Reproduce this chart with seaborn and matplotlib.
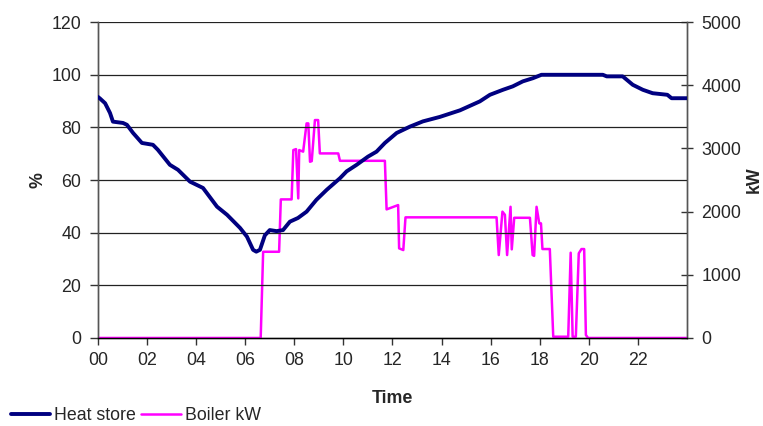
import matplotlib
matplotlib.use("Agg")
import matplotlib.pyplot as plt
import seaborn as sns
import pandas as pd

# Heat store (%) vs time (hours)
store_t = [0.0, 0.08, 0.29, 0.49, 0.61, 1.02, 1.18, 1.43, 1.79, 2.24, 2.44, 2.93, 3.26,
           3.75, 4.28, 4.85, 5.26, 5.79, 6.07, 6.32, 6.45, 6.6, 6.8, 7.0, 7.28, 7.54, 7.82,
           8.15, 8.5, 8.9, 9.32, 9.86, 10.13, 10.54, 11.0, 11.35, 11.69, 12.17, 12.71,
           13.24, 13.93, 14.75, 15.56, 15.97, 16.5, 16.9, 17.31, 17.72, 18.07, 20.57,
           20.73, 21.38, 21.79, 22.2, 22.6, 23.2, 23.37, 24.0]
store_v = [91.6, 91.0, 89.2, 85.5, 82.2, 81.7, 81.0, 77.9, 74.1, 73.4, 71.5, 65.8, 63.9,
           59.4, 57.0, 49.9, 46.8, 41.8, 38.5, 33.5, 32.8, 33.5, 39.0, 41.0, 40.6, 41.0, 44.2,
           45.6, 48.0, 52.5, 56.3, 60.7, 63.3, 65.8, 68.9, 70.8, 74.1, 77.9, 80.3,
           82.3, 84.0, 86.5, 89.9, 92.4, 94.3, 95.6, 97.5, 98.7, 100.0, 100.0,
           99.4, 99.4, 96.2, 94.3, 93.0, 92.4, 91.1, 91.1]

# Boiler output (kW) vs time (hours)
boiler_t = [0.0, 6.63, 6.73, 7.38, 7.45, 7.89, 7.96, 8.07, 8.16, 8.2, 8.36, 8.5, 8.57,
            8.64, 8.71, 8.84, 8.97, 9.04, 9.79, 9.86, 11.69, 11.76, 12.23, 12.27, 12.44,
            12.53, 16.24, 16.33, 16.48, 16.58, 16.67, 16.81, 16.86, 16.96, 17.6, 17.71,
            17.77, 17.87, 17.98, 18.05, 18.11, 18.41, 18.55, 19.16, 19.26, 19.34, 19.47,
            19.59, 19.7, 19.81, 19.88, 19.97, 24.0]
boiler_v = [0, 0, 1365, 1365, 2194, 2194, 2975, 2990, 2210, 2975, 2950, 3397, 3397,
            2790, 2800, 3450, 3450, 2922, 2922, 2805, 2805, 2036, 2104, 1419, 1392,
            1910, 1910, 1313, 2000, 1950, 1313, 2077, 1403, 1903, 1903, 1313,
            1300, 2077, 1815, 1815, 1408, 1408, 20, 20, 1350, 20, 20,
            1340, 1408, 1408, 47, 0, 0]

x_ticks = list(range(0, 24, 2))
x_labels = [f"{h:02d}" for h in x_ticks]
left_ticks = list(range(0, 121, 20))
right_ticks = list(range(0, 5001, 1000))

sns.set_style("white")
plt.rcParams["font.family"] = ["Liberation Sans", "DejaVu Sans"]
plt.rcParams["font.size"] = 12.8

fig = plt.figure(figsize=(7.63, 4.26), dpi=100)
ax = fig.add_axes([0.1284, 0.2066, 0.7720, 0.7414])
ax2 = ax.twinx()

df_s = pd.DataFrame({"t": store_t, "v": store_v})
df_b = pd.DataFrame({"t": boiler_t, "v": boiler_v})

sns.lineplot(data=df_s, x="t", y="v", ax=ax, color="#000080", lw=2.8,
             label="Heat store", legend=False, zorder=3)
sns.lineplot(data=df_b, x="t", y="v", ax=ax2, color="#FF00FF", lw=1.8,
             label="Boiler kW", legend=False, zorder=3)

ax.set_xlim(0, 24)
ax.set_ylim(0, 120)
ax2.set_ylim(0, 5000)
ax.set_xticks(x_ticks)
ax.set_xticklabels(x_labels)
ax.set_yticks(left_ticks)
ax2.set_yticks(right_ticks)

for y in left_ticks[1:]:
    ax.axhline(y, color="#222222", lw=0.9, zorder=1)

ax.set_xlabel("Time", fontweight="bold")
ax.set_ylabel("%", fontweight="bold")
ax2.set_ylabel("kW", fontweight="bold")
ax.xaxis.set_label_coords(0.5, -0.165)
ax.yaxis.set_label_coords(-0.088, 0.5)
ax2.yaxis.set_label_coords(1.099, 0.5)

for a in (ax, ax2):
    for s in a.spines.values():
        s.set_color("#555555")
        s.set_linewidth(1.0)
ax.spines["bottom"].set_color("#000000")
ax.spines["top"].set_visible(False)
ax2.spines["top"].set_visible(False)

ax.tick_params(axis="x", direction="out", length=5, width=1, color="#333333", pad=5, bottom=True)
ax.tick_params(axis="y", direction="out", length=6, width=1, color="#333333", pad=6, left=True)
ax2.tick_params(axis="y", direction="inout", length=9, width=1, color="#333333", pad=6, right=True)
ax.set_zorder(ax2.get_zorder() + 1)
ax.patch.set_visible(False)

h1, l1 = ax.get_legend_handles_labels()
h2, l2 = ax2.get_legend_handles_labels()
fig.legend(h1 + h2, l1 + l2, loc="lower left", bbox_to_anchor=(0.0, -0.02), ncol=2,
           frameon=False, handlelength=2.2, handletextpad=0.25, columnspacing=0.3,
           borderaxespad=0.2)

fig.savefig("out.png", dpi=100)
